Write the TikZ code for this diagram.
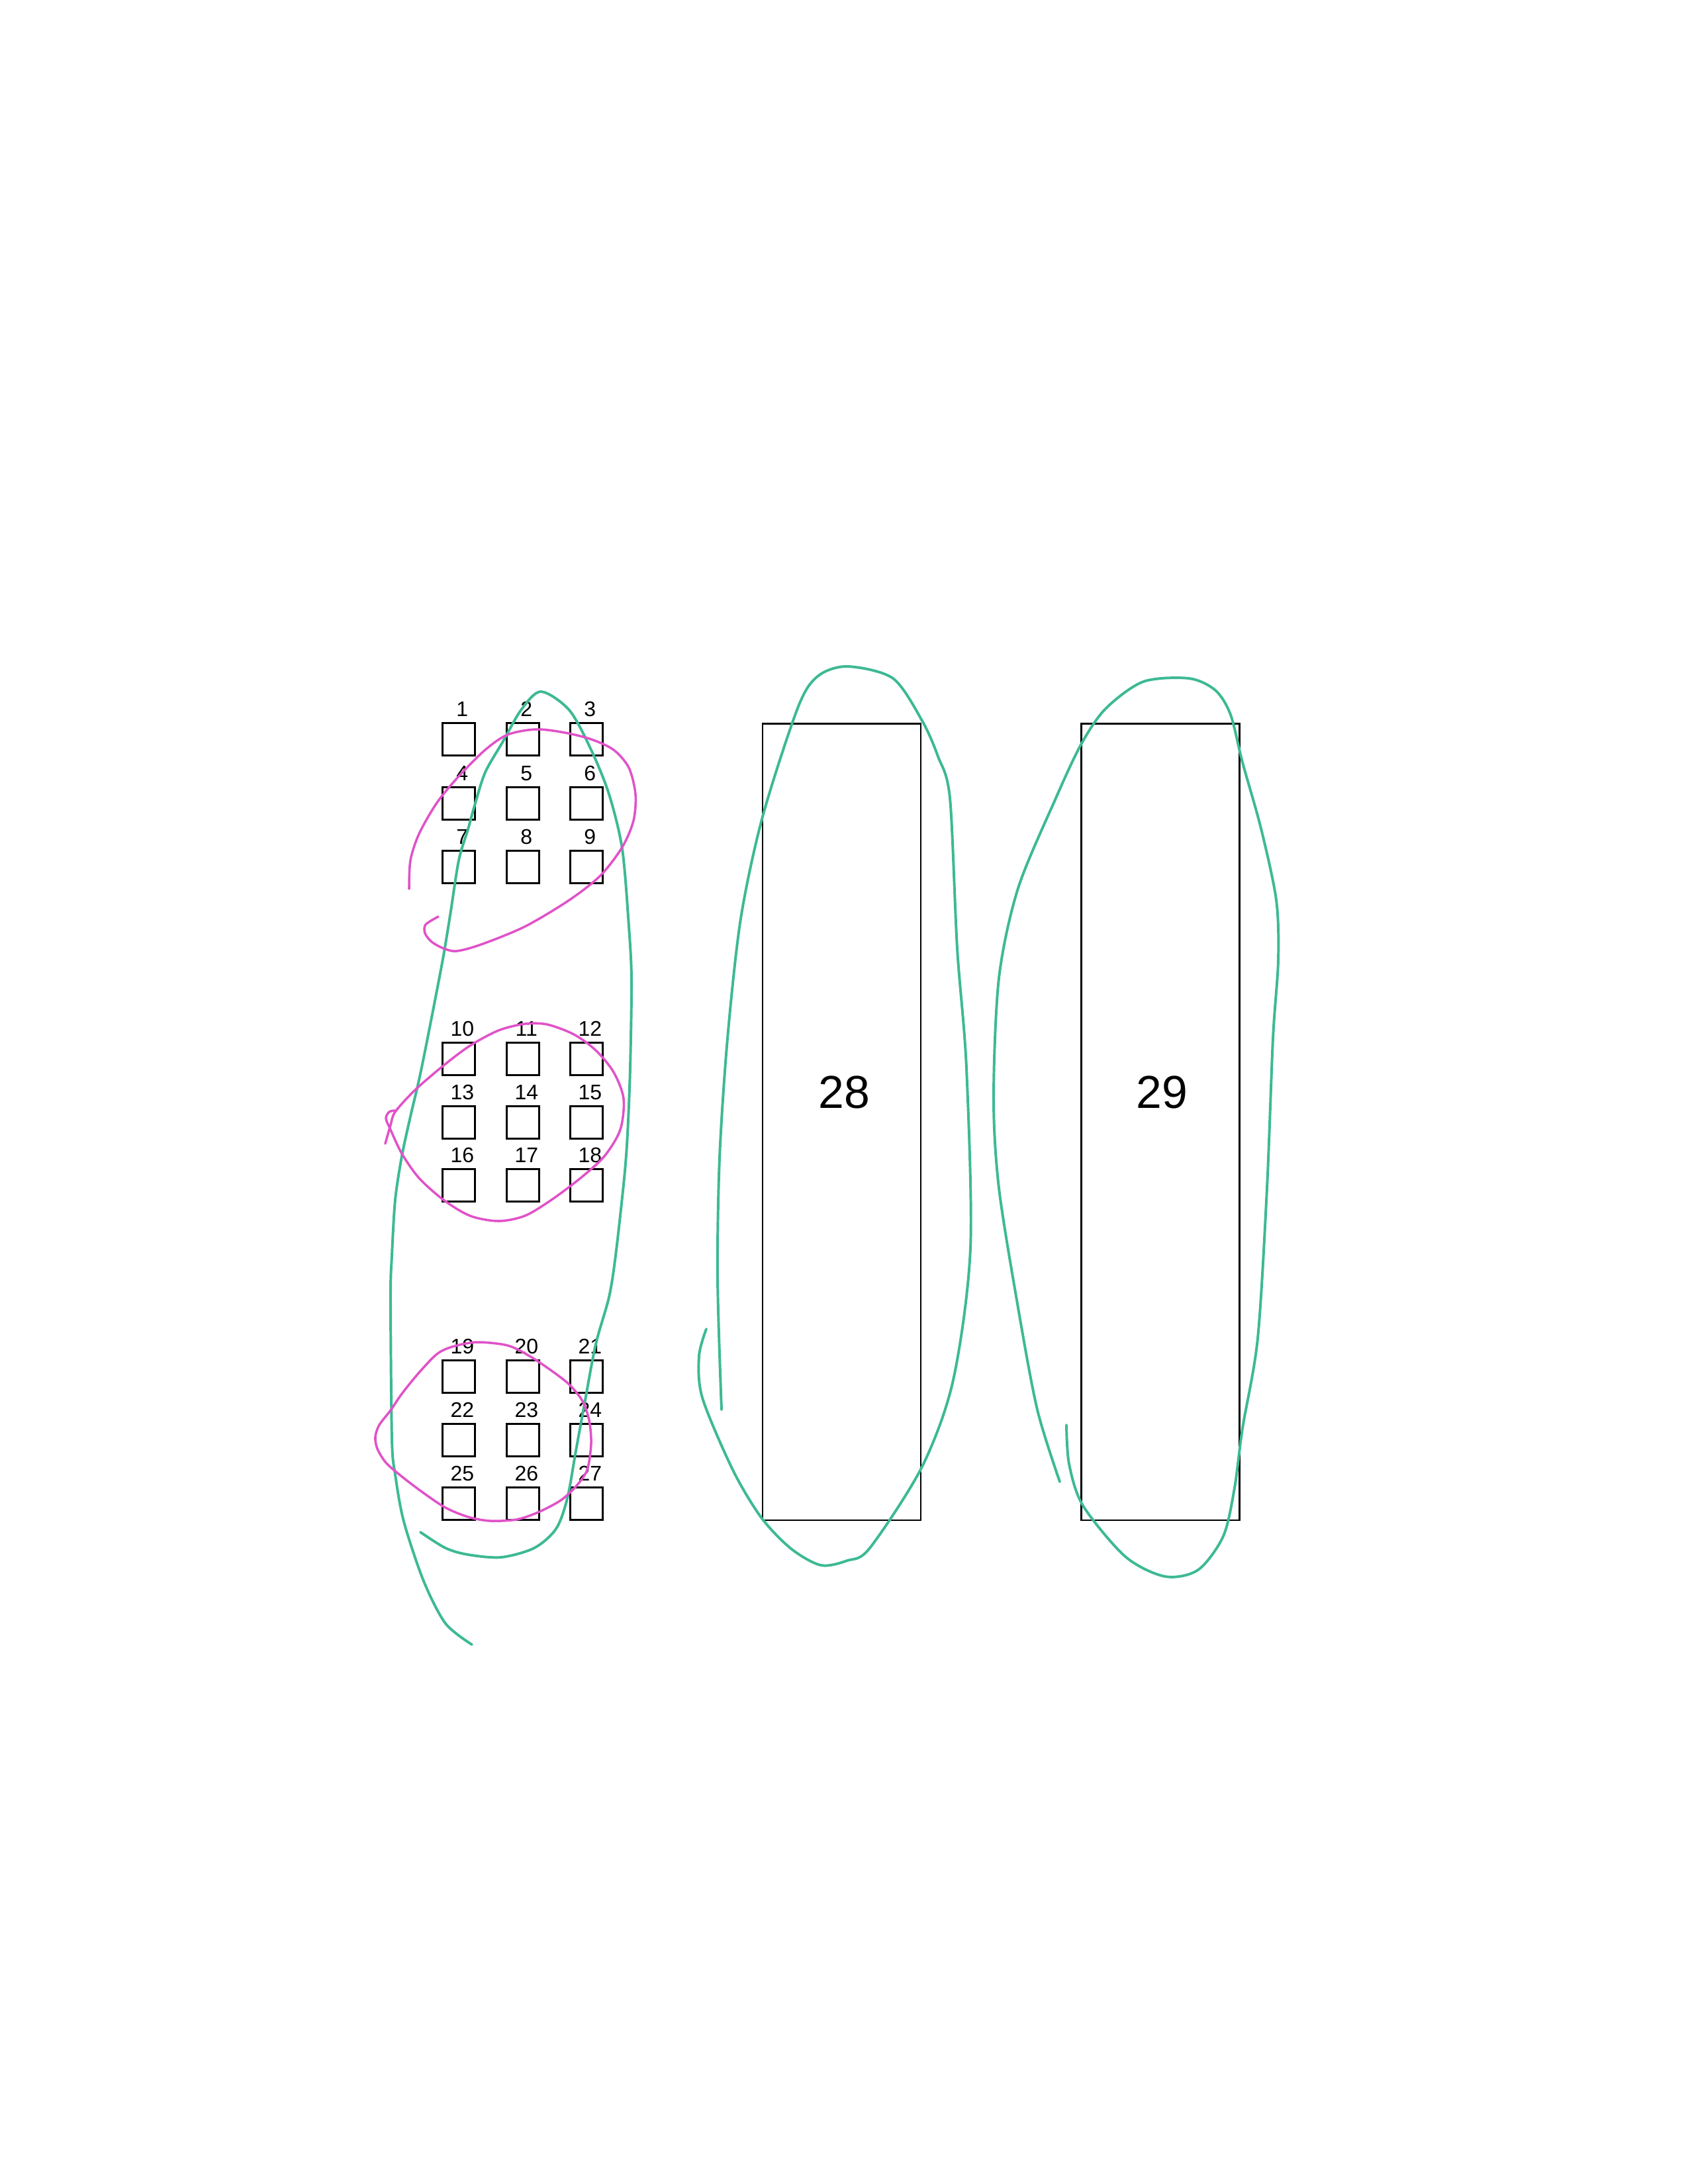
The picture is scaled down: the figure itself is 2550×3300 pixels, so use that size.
\documentclass[tikz,border=0pt]{standalone}
\usepackage{fontspec}
\setmainfont{Liberation Sans}
\usetikzlibrary{positioning}
\definecolor{PenTeal}{HTML}{3DB994}
\definecolor{PenMagenta}{HTML}{E052C8}

\begin{document}
\begin{tikzpicture}[x=0.0846667mm,y=-0.0846667mm,
    cell/.style={draw,line width=0.8pt,minimum size=4.2mm,inner sep=0pt},
    cellnum/.style={inner sep=0pt,font=\fontsize{7.7}{9}\selectfont},
    slot/.style={draw,line width=0.6pt,minimum width=20.2mm,minimum height=101.9mm,inner sep=0pt},
    slotnum/.style={inner sep=0pt,font=\fontsize{16.8}{20}\selectfont},
    tealink/.style={PenTeal,line width=0.95pt,line cap=round,line join=round},
    pinkink/.style={PenMagenta,line width=0.85pt,line cap=round,line join=round}]
  \useasboundingbox (0,0) rectangle (2550,3300);

  % the three blocks of small cells
  \foreach \y [count=\r from 0] in {1117,1214,1310,1600,1696,1791,2080,2176,2272} {
    \foreach \x [count=\c from 1] in {693,790,886} {
      \pgfmathtruncatemacro\n{3*\r+\c}
      \node[cell] (s\n) at (\x,\y) {};
      \node[cellnum,above=0.6mm of s\n,xshift=0.45mm] (n\n) {\n};
    }
  }

  % the two long slots
  \node[slot] (r28) at (1271.5,1695) {};
  \node[slot] (r29) at (1753,1695) {};
  \node[slotnum] (l28) at (1275,1650) {28};
  \node[slotnum] (l29) at (1755,1650) {29};

  % pen marks
  \draw[tealink] plot[smooth] coordinates {(635,2315) (673,2339) (707,2349) (757,2353)
    (807,2339) (840,2310) (857,2264) (870,2192) (883,2121) (900,2031) (920,1960)
    (930,1897) (943,1780) (948,1713) (952,1613) (954,1480) (950,1400) (940,1283)
    (920,1200) (893,1133) (860,1073) (817,1045) (787,1073) (760,1120) (733,1167)
    (717,1217) (707,1253) (693,1300) (680,1383) (667,1460) (637,1613) (620,1687)
    (607,1747) (597,1813) (592,1897) (590,1960) (592,2174) (597,2228) (610,2299)
    (640,2389) (673,2453) (713,2485)};
  \draw[tealink] plot[smooth] coordinates {(1067,2008) (1056,2049) (1061,2112)
    (1107,2221) (1150,2293) (1195,2340) (1240,2365) (1280,2358) (1314,2339) (1393,2216)
    (1440,2085) (1466,1886) (1460,1614) (1446,1433) (1435,1206) (1417,1143)
    (1393,1089) (1349,1025) (1280,1007) (1235,1022) (1205,1070) (1152,1234)
    (1119,1388) (1099,1569) (1087,1750) (1084,1931) (1090,2130)};
  \draw[tealink] plot[smooth] coordinates {(1601,2239) (1567,2130) (1538,1976)
    (1509,1795) (1501,1659) (1509,1478) (1538,1342) (1595,1206) (1633,1125)
    (1670,1071) (1727,1030) (1796,1025) (1836,1043) (1859,1080) (1877,1152)
    (1905,1252) (1928,1360) (1931,1451) (1923,1569) (1914,1795) (1900,2022)
    (1877,2158) (1865,2248) (1848,2321) (1810,2372) (1760,2382) (1700,2352)
    (1636,2275) (1615,2212) (1611,2153)};
  \draw[pinkink] plot[smooth] coordinates {(618,1343) (620,1300) (633,1260)
    (660,1213) (693,1173) (733,1133) (767,1110) (810,1102) (853,1107) (893,1117)
    (927,1133) (950,1160) (960,1200) (957,1240) (940,1280) (907,1323) (860,1360)
    (793,1400) (727,1427) (690,1437) (670,1433) (652,1423) (642,1410) (643,1397)
    (662,1385)};
  \draw[pinkink] plot[smooth] coordinates {(582,1728) (590,1700) (597,1680)
    (627,1647) (670,1610) (710,1580) (753,1557) (793,1547) (827,1548) (867,1563)
    (900,1587) (927,1620) (942,1660) (937,1707) (913,1747) (877,1780) (833,1813)
    (793,1837) (753,1845) (710,1837) (670,1813) (633,1780) (607,1743) (590,1707)
    (583,1690) (588,1680) (597,1678)};
  \draw[pinkink] plot[smooth cycle] coordinates {(720,2028) (683,2035) (660,2046)
    (633,2074) (607,2106) (590,2131) (573,2153) (567,2171) (570,2189) (583,2210)
    (607,2231) (640,2256) (673,2278) (707,2292) (740,2298) (780,2296) (813,2285)
    (847,2267) (870,2246) (887,2221) (893,2181) (890,2146) (880,2117) (860,2092)
    (833,2071) (800,2049) (767,2033)};
\end{tikzpicture}
\end{document}
